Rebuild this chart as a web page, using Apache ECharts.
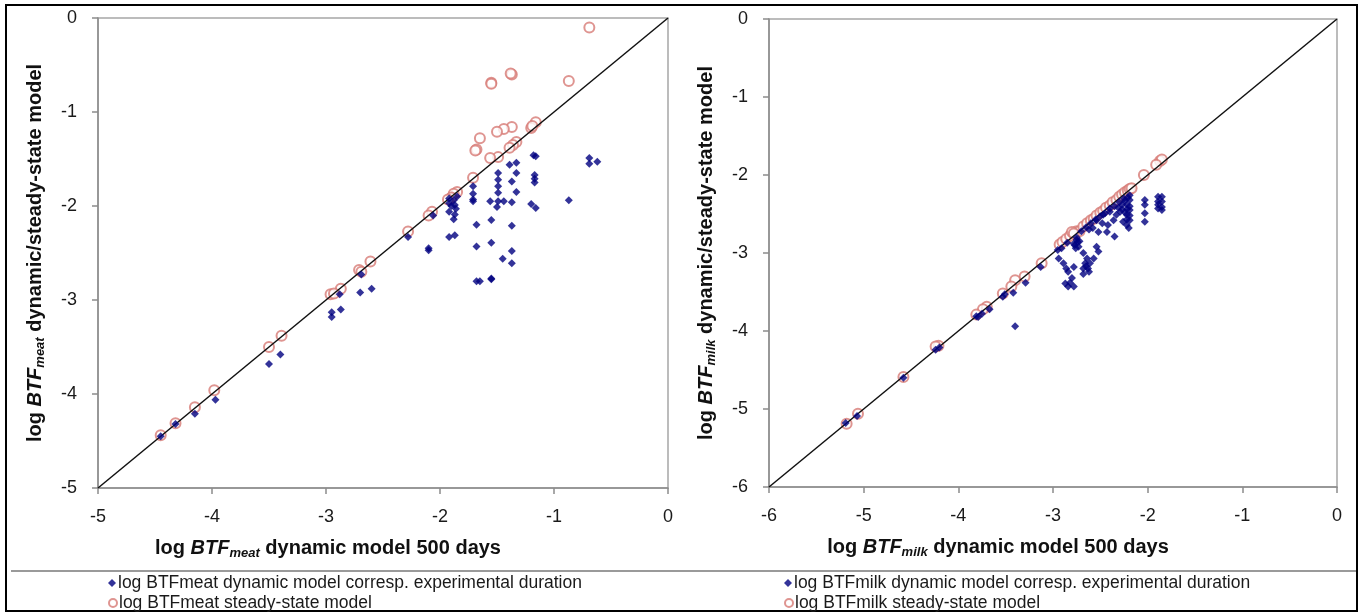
<!DOCTYPE html>
<html>
<head>
<meta charset="utf-8">
<script src="https://cdn.jsdelivr.net/npm/echarts@6/dist/echarts.min.js"></script>
<style>
  html, body { margin: 0; padding: 0; background: #fff; }
  #chart { width: 1359px; height: 613px; }
</style>
</head>
<body>
<div id="chart"></div>
<script>
// === DONNEES ===
const meatTicks = [-5, -4, -3, -2, -1, 0];
const milkTicks = [-6, -5, -4, -3, -2, -1, 0];

// log BTFmeat : [dynamique 500 jours, modele]
const meatDynamic = [
    [-0.69, -1.49], [-0.69, -1.55], [-0.62, -1.53], [-0.87, -1.94],
    [-1.18, -1.46], [-1.16, -1.47], [-1.17, -1.67], [-1.17, -1.71], [-1.17, -1.75],
    [-1.20, -1.98], [-1.16, -2.02],
    [-1.33, -1.54], [-1.39, -1.56], [-1.33, -1.65], [-1.37, -1.74], [-1.33, -1.85],
    [-1.37, -1.96], [-1.37, -2.21], [-1.37, -2.48], [-1.37, -2.61], [-1.45, -2.56],
    [-1.49, -1.65], [-1.49, -1.72], [-1.49, -1.79], [-1.49, -1.86], [-1.49, -1.95],
    [-1.50, -2.01], [-1.44, -1.95], [-1.56, -1.95], [-1.55, -2.15], [-1.55, -2.39],
    [-1.55, -2.78], [-1.55, -2.77], [-1.68, -2.80], [-1.65, -2.80], [-1.68, -2.20],
    [-1.68, -2.43], [-1.71, -1.79], [-1.71, -1.87], [-1.71, -1.93], [-1.71, -1.95],
    [-1.92, -1.92], [-1.92, -1.97], [-1.92, -2.06], [-1.88, -1.94], [-1.87, -1.99],
    [-1.86, -2.03], [-1.87, -2.09], [-1.88, -2.14], [-1.90, -2.00], [-1.85, -1.90],
    [-1.92, -2.33], [-1.87, -2.31], [-2.10, -2.45], [-2.10, -2.47], [-2.06, -2.10],
    [-2.28, -2.33], [-2.69, -2.73], [-2.70, -2.92], [-2.60, -2.88], [-2.88, -2.94],
    [-2.95, -3.13], [-2.95, -3.18], [-2.87, -3.10], [-3.50, -3.68], [-3.40, -3.58],
    [-3.97, -4.06], [-4.15, -4.21], [-4.32, -4.32], [-4.45, -4.45]
];

const meatSteady = [
    [-0.69, -0.10], [-0.87, -0.67], [-1.37, -0.60], [-1.38, -0.59], [-1.55, -0.69],
    [-1.55, -0.70], [-1.16, -1.11], [-1.20, -1.17], [-1.19, -1.15], [-1.37, -1.16],
    [-1.44, -1.18], [-1.50, -1.21], [-1.65, -1.28], [-1.68, -1.40], [-1.69, -1.41],
    [-1.33, -1.32], [-1.36, -1.35], [-1.39, -1.38], [-1.49, -1.48], [-1.56, -1.49],
    [-1.71, -1.70], [-1.85, -1.85], [-1.88, -1.87], [-1.90, -1.91], [-1.93, -1.93],
    [-2.07, -2.06], [-2.10, -2.10], [-2.28, -2.27], [-2.61, -2.59], [-2.71, -2.68],
    [-2.69, -2.70], [-2.87, -2.88], [-2.96, -2.94], [-2.93, -2.93], [-3.39, -3.38],
    [-3.50, -3.50], [-3.98, -3.96], [-4.15, -4.14], [-4.32, -4.31], [-4.45, -4.44]
];

// log BTFmilk : [dynamique 500 jours, modele]
const milkDynamic = [
    [-1.89, -2.28], [-1.85, -2.28], [-1.89, -2.34], [-1.85, -2.34], [-1.89, -2.38],
    [-1.85, -2.41], [-1.89, -2.43], [-1.85, -2.45],
    [-2.03, -2.32], [-2.03, -2.38], [-2.03, -2.49], [-2.03, -2.60],
    [-2.19, -2.32], [-2.22, -2.38], [-2.19, -2.45], [-2.22, -2.51], [-2.19, -2.58],
    [-2.22, -2.64], [-2.20, -2.68], [-2.19, -2.26], [-2.21, -2.29], [-2.19, -2.40],
    [-2.22, -2.44], [-2.19, -2.52], [-2.22, -2.57], [-2.24, -2.33], [-2.24, -2.48],
    [-2.27, -2.38], [-2.29, -2.47], [-2.26, -2.60], [-2.33, -2.51], [-2.36, -2.58],
    [-2.35, -2.79], [-2.42, -2.64], [-2.43, -2.73], [-2.52, -2.73], [-2.58, -2.68],
    [-2.40, -2.47], [-2.47, -2.51], [-2.54, -2.58], [-2.27, -2.44], [-2.31, -2.42],
    [-2.30, -2.35], [-2.25, -2.30], [-2.35, -2.40], [-2.40, -2.43], [-2.45, -2.49],
    [-2.50, -2.53], [-2.55, -2.57], [-2.60, -2.62], [-2.65, -2.67], [-2.70, -2.72],
    [-2.85, -2.87], [-2.95, -2.96], [-2.62, -2.70], [-2.48, -2.62],
    [-2.75, -2.83], [-2.77, -2.90], [-2.73, -2.92], [-2.78, -2.88], [-2.75, -2.80],
    [-2.72, -2.85], [-2.91, -2.94], [-2.94, -3.07], [-2.74, -2.86], [-2.76, -2.94],
    [-2.89, -3.13], [-2.86, -3.20], [-2.84, -3.24], [-2.80, -3.32], [-2.87, -3.39],
    [-2.84, -3.43], [-2.78, -3.43], [-2.78, -3.18], [-2.82, -3.38],
    [-2.68, -3.00], [-2.64, -3.07], [-2.66, -3.13], [-2.68, -3.20], [-2.63, -3.20],
    [-2.61, -3.13], [-2.57, -3.07], [-2.54, -2.92], [-2.52, -2.98], [-2.68, -3.27],
    [-2.65, -3.17], [-2.62, -3.24],
    [-3.13, -3.18], [-3.29, -3.38], [-3.42, -3.51], [-3.53, -3.56], [-3.51, -3.53],
    [-3.67, -3.72], [-3.75, -3.78], [-3.79, -3.82], [-3.81, -3.81], [-3.40, -3.94],
    [-4.24, -4.24], [-4.20, -4.21], [-4.58, -4.60], [-5.07, -5.09], [-5.19, -5.18]
];

const milkSteady = [
    [-1.87, -1.82], [-1.85, -1.80], [-1.91, -1.87], [-2.04, -2.00],
    [-2.93, -2.89], [-2.90, -2.86], [-2.86, -2.82], [-2.82, -2.78], [-2.78, -2.74],
    [-2.75, -2.72], [-2.72, -2.72], [-2.68, -2.66], [-2.64, -2.62], [-2.60, -2.58],
    [-2.57, -2.56], [-2.54, -2.52], [-2.50, -2.48], [-2.47, -2.46], [-2.44, -2.42],
    [-2.40, -2.39], [-2.37, -2.35], [-2.33, -2.32], [-2.30, -2.28], [-2.27, -2.25],
    [-2.24, -2.22], [-2.21, -2.20], [-2.19, -2.18], [-2.17, -2.17],
    [-2.80, -2.73], [-2.78, -2.75],
    [-3.12, -3.13], [-3.30, -3.30], [-3.40, -3.35], [-3.53, -3.52], [-3.44, -3.43],
    [-3.70, -3.69], [-3.74, -3.72], [-3.81, -3.79], [-4.21, -4.19], [-4.24, -4.20],
    [-4.58, -4.59], [-5.06, -5.06], [-5.18, -5.19]
];

const meatLine = [[-5, -5], [0, 0]];
const milkLine = [[-6, -6], [0, 0]];

const names = {
    meatDyn: "log BTFmeat dynamic model corresp. experimental duration",
    meatSS: "log BTFmeat steady-state model",
    milkDyn: "log BTFmilk dynamic model corresp. experimental duration",
    milkSS: "log BTFmilk steady-state model"
};

// === STYLES ===
const FONT = "Liberation Sans, Arial, sans-serif";
const BLUE = "#00007f";
const RED = "#d77a76";

const richTitre = {
    n: { fontFamily: FONT, fontSize: 20, fontWeight: "bold", color: "#111", lineHeight: 24 },
    b: { fontFamily: FONT, fontSize: 20, fontWeight: "bold", fontStyle: "italic", color: "#111", lineHeight: 24 },
    s: { fontFamily: FONT, fontSize: 13, fontWeight: "bold", fontStyle: "italic", color: "#111",
         lineHeight: 14, verticalAlign: "bottom" }
};

function axe(gridIndex, ticks, nom, estX) {
    return {
        type: "value",
        gridIndex: gridIndex,
        min: ticks[0],
        max: 0,
        interval: 1,
        name: nom,
        nameLocation: "middle",
        nameGap: estX ? 48 : 51,
        nameTextStyle: estX ? { padding: [0, 110, 0, 0], rich: richTitre } : { rich: richTitre },
        axisLine: { show: true, onZero: false, lineStyle: { color: "#8c8c8c", width: 1.5 } },
        axisTick: { show: true, inside: false, length: 6, lineStyle: { color: "#8c8c8c", width: 1.5 } },
        axisLabel: {
            fontFamily: FONT, fontSize: 18, color: "#1a1a1a",
            margin: estX ? 20 : 21
        },
        splitLine: { show: false }
    };
}

const titreXMeat = "{n|log }{b|BTF}{s|meat}{n| dynamic model 500 days}";
const titreYMeat = "{n|log }{b|BTF}{s|meat}{n| dynamic/steady-state model}";
const titreXMilk = "{n|log }{b|BTF}{s|milk}{n| dynamic model 500 days}";
const titreYMilk = "{n|log }{b|BTF}{s|milk}{n| dynamic/steady-state model}";

// une ligne de legende par serie
function legende(left, top, nom) {
    return {
        data: [nom],
        orient: "horizontal",
        left: left,
        top: top,
        padding: 0,
        itemWidth: 8,
        itemHeight: 8,
        itemGap: 0,
        textStyle: { fontFamily: FONT, fontSize: 17.5, color: "#1a1a1a", padding: [0, 0, 0, -3] },
        selectedMode: false
    };
}

const chart = echarts.init(document.getElementById("chart"), null, { renderer: "canvas" });

const option = {
    animation: false,
    backgroundColor: "#ffffff",
    grid: [
        { left: 98, top: 18, width: 570, height: 470, show: true, borderColor: "#a6a6a6", borderWidth: 1.5 },
        { left: 769, top: 19, width: 568, height: 468, show: true, borderColor: "#a6a6a6", borderWidth: 1.5 }
    ],
    xAxis: [
        axe(0, meatTicks, titreXMeat, true),
        axe(1, milkTicks, titreXMilk, true)
    ],
    yAxis: [
        axe(0, meatTicks, titreYMeat, false),
        axe(1, milkTicks, titreYMilk, false)
    ],
    legend: [
        legende(108, 574, names.meatDyn),
        legende(108, 594, names.meatSS),
        legende(784, 574, names.milkDyn),
        legende(784, 594, names.milkSS)
    ],
    graphic: [
        { type: "rect", shape: { x: 6, y: 5, width: 1351, height: 606 }, style: { fill: "none", stroke: "#000", lineWidth: 2 }, silent: true },
        { type: "line", shape: { x1: 11, y1: 571, x2: 1356, y2: 571 }, style: { stroke: "#9a9a9a", lineWidth: 2 }, silent: true }
    ],
    series: [
        {
            name: "diag meat", type: "line", xAxisIndex: 0, yAxisIndex: 0,
            data: meatLine, symbol: "none", lineStyle: { color: "#111", width: 1.5 }, z: 3
        },
        {
            name: names.meatSS, type: "scatter", xAxisIndex: 0, yAxisIndex: 0,
            data: meatSteady, symbol: "emptyCircle", symbolSize: 10,
            itemStyle: { color: RED, borderColor: RED, borderWidth: 1.2, opacity: 0.8 }, z: 2
        },
        {
            name: names.meatDyn, type: "scatter", xAxisIndex: 0, yAxisIndex: 0,
            data: meatDynamic, symbol: "diamond", symbolSize: 8,
            itemStyle: { color: BLUE }, z: 4
        },
        {
            name: "diag milk", type: "line", xAxisIndex: 1, yAxisIndex: 1,
            data: milkLine, symbol: "none", lineStyle: { color: "#111", width: 1.5 }, z: 3
        },
        {
            name: names.milkSS, type: "scatter", xAxisIndex: 1, yAxisIndex: 1,
            data: milkSteady, symbol: "emptyCircle", symbolSize: 10,
            itemStyle: { color: RED, borderColor: RED, borderWidth: 1.2, opacity: 0.8 }, z: 2
        },
        {
            name: names.milkDyn, type: "scatter", xAxisIndex: 1, yAxisIndex: 1,
            data: milkDynamic, symbol: "diamond", symbolSize: 8,
            itemStyle: { color: BLUE }, z: 4
        }
    ]
};

chart.setOption(option);
</script>
</body>
</html>
